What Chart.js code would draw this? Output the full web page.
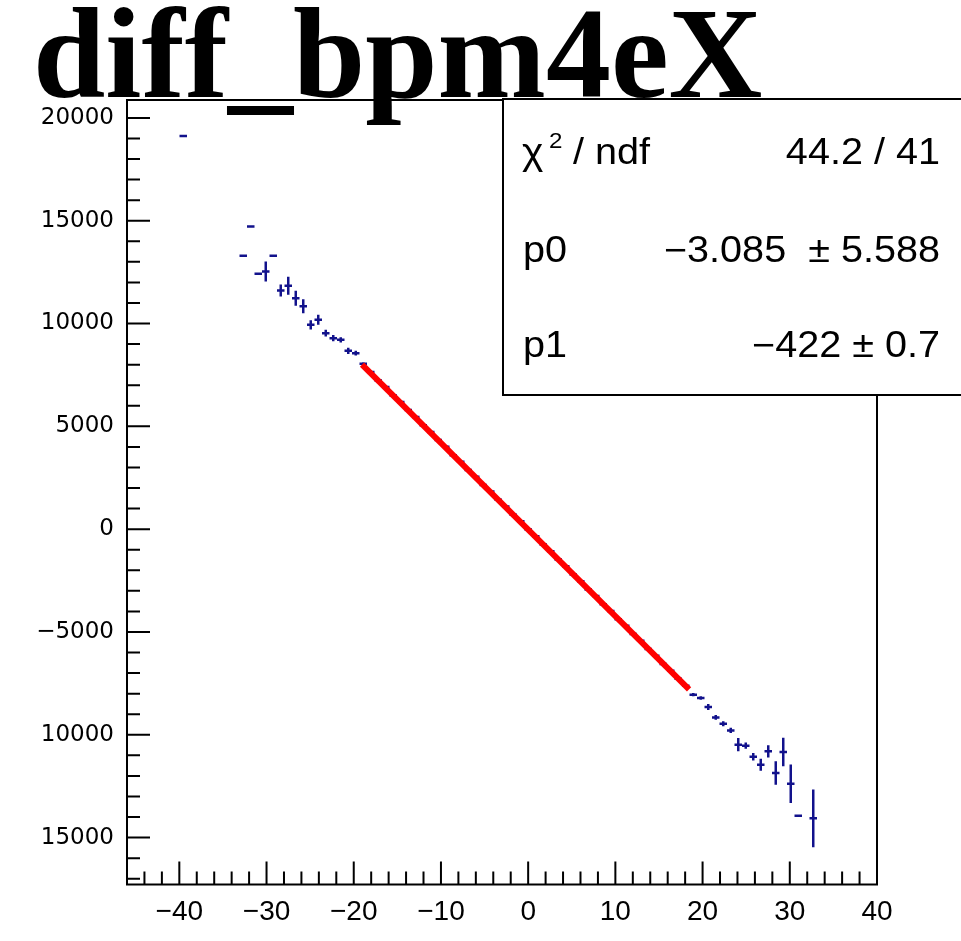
<!DOCTYPE html>
<html>
<head>
<meta charset="utf-8">
<title>diff_bpm4eX</title>
<script src="https://cdn.jsdelivr.net/npm/chart.js@4.4.1/dist/chart.umd.min.js"></script>
<style>
    html, body { margin: 0; padding: 0; background: #fff; }
    #wrap { width: 961px; height: 941px; position: relative; }
</style>
</head>
<body>
<div id="wrap"><canvas id="fitChart"></canvas></div>
<script>
// ==========================================
// DATA (profile bins)
// ==========================================
var binX = [
    -39.55, -32.67, -31.81, -30.95, -30.09, -29.23, -28.37, -27.51, -26.65, -25.79,
    -24.93, -24.07, -23.21, -22.35, -21.49, -20.63, -19.77, -18.91,
    -18.05, -17.19, -16.33, -15.47, -14.61, -13.75, -12.89, -12.03, -11.17, -10.31,
    -9.45, -8.59, -7.73, -6.87, -6.01, -5.15, -4.29, -3.43, -2.57, -1.71,
    -0.85, 0.01, 0.87, 1.73, 2.59, 3.45, 4.31, 5.17, 6.03, 6.89,
    7.75, 8.61, 9.47, 10.33, 11.19, 12.05, 12.91, 13.77, 14.63, 15.49,
    16.35, 17.21, 18.07,
    18.93, 19.79, 20.65, 21.51, 22.37, 23.23, 24.09, 24.95, 25.81, 26.67,
    27.53, 28.39, 29.25, 30.11, 30.97, 32.69
];
var binY = [
    19123, 13290, 14714, 12415, 12527, 13290, 11603, 11832, 11234, 10845,
    9936, 10179, 9533, 9289, 9207, 8672, 8560, 8040,
    7640, 7230, 6910, 6500, 6180, 5790, 5460, 5050, 4730, 4330,
    4010, 3600, 3280, 2880, 2550, 2150, 1830, 1430, 1100, 700,
    380, -20, -350, -750, -1070, -1470, -1800, -2200, -2530, -2930,
    -3250, -3650, -3980, -4380, -4700, -5100, -5430, -5830, -6150, -6560,
    -6880, -7280, -7610,
    -8050, -8210, -8648, -9153, -9460, -9785, -10480, -10529, -11064, -11453,
    -10806, -11856, -10835, -12376, -13932, -14063
];
var binErr = [
    0, 0, 0, 0, 486, 0, 292, 437, 365, 340,
    228, 243, 170, 150, 130, 150, 120, 80,
    70, 70, 65, 65, 60, 60, 55, 55, 50, 50,
    50, 45, 45, 45, 45, 45, 45, 45, 45, 45,
    45, 45, 45, 45, 45, 45, 45, 45, 45, 45,
    50, 50, 50, 50, 55, 55, 55, 60, 60, 60,
    65, 65, 70,
    80, 80, 150, 120, 120, 130, 325, 150, 180, 290,
    300, 570, 690, 935, 0, 1400
];
var binWidth = 0.86;

// fit line end points (pol1 over the fit range)
var fitX = [-19.05, 18.45];
var fitY = [8000, -7790];

var xTickValues = [-40, -30, -20, -10, 0, 10, 20, 30, 40];
var xTickLabels = ['\u221240', '\u221230', '\u221220', '\u221210', '0', '10', '20', '30', '40'];
var yTickValues = [20000, 15000, 10000, 5000, 0, -5000, -10000, -15000];
var yTickLabels = ['20000', '15000', '10000', '5000', '0', '\u22125000', '10000', '15000'];

var statsRows = ['p0', 'p1'];
var statsValues = ['\u22123.085  \u00b1 5.588', '\u2212422 \u00b1 0.7'];
var chi2Text = '44.2 / 41';
var titleText = 'diff_bpm4eX';

var BLUE = '#12128c';

// ==========================================
// PLUGINS
// ==========================================
var errorBarsPlugin = {
    id: 'errorBars',
    afterDatasetDraw: function(chart, args) {
        if (args.index !== 1) return;
        var ctx = chart.ctx, a = chart.chartArea;
        var xs = chart.scales.x, ys = chart.scales.y;
        ctx.save();
        ctx.beginPath();
        ctx.rect(a.left, a.top, a.right - a.left, a.bottom - a.top);
        ctx.clip();
        ctx.strokeStyle = BLUE;
        ctx.lineWidth = 2.5;
        ctx.beginPath();
        chart.data.datasets[1].data.forEach(function(p) {
            var px = xs.getPixelForValue(p.x);
            var py = ys.getPixelForValue(p.y);
            ctx.moveTo(xs.getPixelForValue(p.x - binWidth / 2), py);
            ctx.lineTo(xs.getPixelForValue(p.x + binWidth / 2), py);
            if (p.err > 0) {
                ctx.moveTo(px, ys.getPixelForValue(p.y + p.err));
                ctx.lineTo(px, ys.getPixelForValue(p.y - p.err));
            }
        });
        ctx.stroke();
        ctx.restore();
    }
};

// text squeezed a little wider, like the ROOT output
function wideText(ctx, text, x, y, align) {
    ctx.save();
    ctx.translate(x, y);
    ctx.scale(1.1, 1);
    ctx.textAlign = align;
    ctx.fillText(text, 0, 0);
    ctx.restore();
}

var framePlugin = {
    id: 'rootFrame',
    afterDraw: function(chart) {
        var ctx = chart.ctx, a = chart.chartArea;
        var xs = chart.scales.x, ys = chart.scales.y;
        var v, p, len;

        // frame + inward ticks
        ctx.save();
        ctx.strokeStyle = '#000';
        ctx.lineWidth = 2;
        ctx.strokeRect(a.left, a.top, a.right - a.left, a.bottom - a.top);
        ctx.beginPath();
        for (v = Math.ceil(xs.min / 2) * 2; v <= xs.max; v += 2) {
            p = xs.getPixelForValue(v);
            len = (v % 10 === 0) ? 23 : 13;
            ctx.moveTo(p, a.bottom);
            ctx.lineTo(p, a.bottom - len);
        }
        for (v = Math.ceil(ys.min / 1000) * 1000; v <= ys.max; v += 1000) {
            p = ys.getPixelForValue(v);
            len = (v % 5000 === 0) ? 23 : 13;
            ctx.moveTo(a.left, p);
            ctx.lineTo(a.left + len, p);
        }
        ctx.stroke();

        // stats box
        var bx = 503, by = 99, bh = 296;
        ctx.fillStyle = '#fff';
        ctx.fillRect(bx, by, 480, bh);
        ctx.strokeRect(bx, by, 480, bh);
        ctx.fillStyle = '#000';
        ctx.textBaseline = 'alphabetic';
        ctx.font = '37px "Liberation Sans", Arial, sans-serif';
        wideText(ctx, '\u03c7', 522, 164, 'left');
        ctx.font = '22px "Liberation Sans", Arial, sans-serif';
        wideText(ctx, '2', 549, 148, 'left');
        ctx.font = '36px "Liberation Sans", Arial, sans-serif';
        wideText(ctx, '/ ndf', 573, 164, 'left');
        statsRows.forEach(function(r, i) {
            wideText(ctx, r, 523, 262 + i * 95, 'left');
        });
        wideText(ctx, chi2Text, 940, 164, 'right');
        statsValues.forEach(function(s, i) {
            wideText(ctx, s, 940, 262 + i * 95, 'right');
        });

        // title
        ctx.textAlign = 'left';
        ctx.font = 'bold 130px "Liberation Serif", "DejaVu Serif", serif';
        ctx.fillText(titleText, 33, 97);
        ctx.restore();
    }
};

// ==========================================
// CHART
// ==========================================
var points = binX.map(function(x, i) {
    return { x: x, y: binY[i], err: binErr[i] };
});

new Chart(document.getElementById('fitChart').getContext('2d'), {
    type: 'scatter',
    data: {
        datasets: [{
            label: 'fit',
            data: fitX.map(function(x, i) { return { x: x, y: fitY[i] }; }),
            showLine: true,
            borderColor: '#ff0000',
            borderWidth: 6,
            pointRadius: 0,
            order: 0
        }, {
            label: 'diff_bpm4eX',
            data: points,
            pointRadius: 0,
            showLine: false,
            order: 1
        }]
    },
    options: {
        responsive: true,
        maintainAspectRatio: false,
        animation: false,
        layout: { padding: { top: 100, right: 84, left: 0, bottom: 0 } },
        plugins: { legend: { display: false }, tooltip: { enabled: false }, title: { display: false } },
        scales: {
            x: {
                type: 'linear',
                min: -46,
                max: 40,
                grid: { display: false, drawTicks: false },
                border: { display: false },
                afterBuildTicks: function(scale) {
                    scale.ticks = xTickValues.map(function(v) { return { value: v }; });
                },
                afterFit: function(scale) { scale.height = 56.5; },
                ticks: {
                    autoSkip: false,
                    maxRotation: 0,
                    padding: 11,
                    color: '#000',
                    font: { family: '"Liberation Sans", Arial, sans-serif', size: 28 },
                    callback: function(v, i) { return xTickLabels[i]; }
                }
            },
            y: {
                type: 'linear',
                min: -17280,
                max: 20870,
                grid: { display: false, drawTicks: false },
                border: { display: false },
                afterBuildTicks: function(scale) {
                    scale.ticks = yTickValues.map(function(v) { return { value: v }; });
                },
                afterFit: function(scale) { scale.width = 127; },
                ticks: {
                    autoSkip: false,
                    padding: 13,
                    color: '#000',
                    font: { family: '"DejaVu Sans", sans-serif', size: 23 },
                    callback: function(v, i) { return yTickLabels[i]; }
                }
            }
        }
    },
    plugins: [errorBarsPlugin, framePlugin]
});
</script>
</body>
</html>
